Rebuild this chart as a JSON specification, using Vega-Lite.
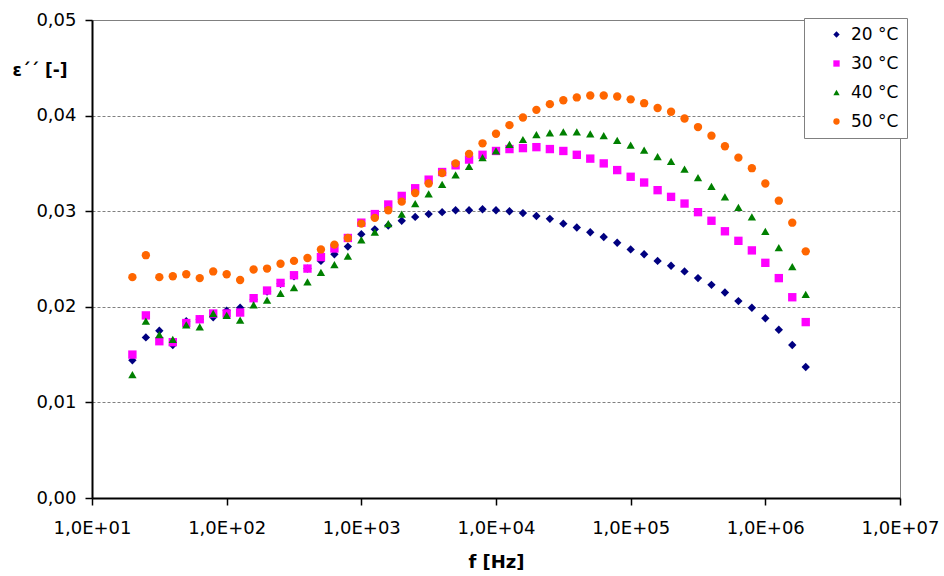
{
  "$schema": "https://vega.github.io/schema/vega-lite/v6.json",
  "width": 808,
  "height": 478,
  "autosize": {"type": "none"},
  "padding": {"left": 92, "top": 20, "right": 44, "bottom": 78},
  "background": "white",
  "config": {
    "font": "DejaVu Sans",
    "view": {"stroke": "#808080", "strokeWidth": 1},
    "axis": {"labelFont": "DejaVu Sans", "titleFont": "DejaVu Sans", "labelColor": "black", "titleColor": "black"}
  },
  "datasets": {
    "d": [
      {"f":19.95,"T":"20 °C","e":0.0144},{"f":25.12,"T":"20 °C","e":0.0168},{"f":31.62,"T":"20 °C","e":0.0175},{"f":39.81,"T":"20 °C","e":0.0160},{"f":50.12,"T":"20 °C","e":0.0185},{"f":63.1,"T":"20 °C","e":0.0187},{"f":79.43,"T":"20 °C","e":0.0189},{"f":100,"T":"20 °C","e":0.0196},{"f":125.9,"T":"20 °C","e":0.0199},{"f":158.5,"T":"20 °C","e":0.0208},
      {"f":199.5,"T":"20 °C","e":0.0216},{"f":251.2,"T":"20 °C","e":0.0224},{"f":316.2,"T":"20 °C","e":0.0232},{"f":398.1,"T":"20 °C","e":0.0240},{"f":501.2,"T":"20 °C","e":0.0248},{"f":631,"T":"20 °C","e":0.0255},{"f":794.3,"T":"20 °C","e":0.0263},{"f":1000,"T":"20 °C","e":0.0276},{"f":1259,"T":"20 °C","e":0.0281},{"f":1585,"T":"20 °C","e":0.0285},
      {"f":1995,"T":"20 °C","e":0.0290},{"f":2512,"T":"20 °C","e":0.0294},{"f":3162,"T":"20 °C","e":0.0297},{"f":3981,"T":"20 °C","e":0.0299},{"f":5012,"T":"20 °C","e":0.0301},{"f":6310,"T":"20 °C","e":0.0301},{"f":7943,"T":"20 °C","e":0.0302},{"f":10000,"T":"20 °C","e":0.0301},{"f":12589,"T":"20 °C","e":0.0300},{"f":15849,"T":"20 °C","e":0.0298},
      {"f":19953,"T":"20 °C","e":0.0295},{"f":25119,"T":"20 °C","e":0.0292},{"f":31623,"T":"20 °C","e":0.0287},{"f":39811,"T":"20 °C","e":0.0283},{"f":50119,"T":"20 °C","e":0.0278},{"f":63096,"T":"20 °C","e":0.0273},{"f":79433,"T":"20 °C","e":0.0267},{"f":100000,"T":"20 °C","e":0.0260},{"f":125893,"T":"20 °C","e":0.0255},{"f":158489,"T":"20 °C","e":0.0248},
      {"f":199526,"T":"20 °C","e":0.0243},{"f":251189,"T":"20 °C","e":0.0237},{"f":316228,"T":"20 °C","e":0.0230},{"f":398107,"T":"20 °C","e":0.0223},{"f":501187,"T":"20 °C","e":0.0215},{"f":630957,"T":"20 °C","e":0.0206},{"f":794328,"T":"20 °C","e":0.0199},{"f":1000000,"T":"20 °C","e":0.0188},{"f":1258925,"T":"20 °C","e":0.0176},{"f":1584893,"T":"20 °C","e":0.0160},{"f":1995262,"T":"20 °C","e":0.0137},

      {"f":19.95,"T":"30 °C","e":0.0150},{"f":25.12,"T":"30 °C","e":0.0191},{"f":31.62,"T":"30 °C","e":0.0164},{"f":39.81,"T":"30 °C","e":0.0163},{"f":50.12,"T":"30 °C","e":0.0183},{"f":63.1,"T":"30 °C","e":0.0187},{"f":79.43,"T":"30 °C","e":0.0193},{"f":100,"T":"30 °C","e":0.0193},{"f":125.9,"T":"30 °C","e":0.0194},{"f":158.5,"T":"30 °C","e":0.0209},
      {"f":199.5,"T":"30 °C","e":0.0217},{"f":251.2,"T":"30 °C","e":0.0225},{"f":316.2,"T":"30 °C","e":0.0233},{"f":398.1,"T":"30 °C","e":0.0240},{"f":501.2,"T":"30 °C","e":0.0252},{"f":631,"T":"30 °C","e":0.0261},{"f":794.3,"T":"30 °C","e":0.0272},{"f":1000,"T":"30 °C","e":0.0288},{"f":1259,"T":"30 °C","e":0.0297},{"f":1585,"T":"30 °C","e":0.0307},
      {"f":1995,"T":"30 °C","e":0.0316},{"f":2512,"T":"30 °C","e":0.0324},{"f":3162,"T":"30 °C","e":0.0333},{"f":3981,"T":"30 °C","e":0.0341},{"f":5012,"T":"30 °C","e":0.0348},{"f":6310,"T":"30 °C","e":0.0354},{"f":7943,"T":"30 °C","e":0.0359},{"f":10000,"T":"30 °C","e":0.0363},{"f":12589,"T":"30 °C","e":0.0365},{"f":15849,"T":"30 °C","e":0.0366},
      {"f":19953,"T":"30 °C","e":0.0367},{"f":25119,"T":"30 °C","e":0.0365},{"f":31623,"T":"30 °C","e":0.0363},{"f":39811,"T":"30 °C","e":0.0359},{"f":50119,"T":"30 °C","e":0.0355},{"f":63096,"T":"30 °C","e":0.0350},{"f":79433,"T":"30 °C","e":0.0343},{"f":100000,"T":"30 °C","e":0.0336},{"f":125893,"T":"30 °C","e":0.0330},{"f":158489,"T":"30 °C","e":0.0322},
      {"f":199526,"T":"30 °C","e":0.0315},{"f":251189,"T":"30 °C","e":0.0308},{"f":316228,"T":"30 °C","e":0.0299},{"f":398107,"T":"30 °C","e":0.0290},{"f":501187,"T":"30 °C","e":0.0279},{"f":630957,"T":"30 °C","e":0.0269},{"f":794328,"T":"30 °C","e":0.0259},{"f":1000000,"T":"30 °C","e":0.0246},{"f":1258925,"T":"30 °C","e":0.0230},{"f":1584893,"T":"30 °C","e":0.0210},{"f":1995262,"T":"30 °C","e":0.0184},

      {"f":19.95,"T":"40 °C","e":0.0129},{"f":25.12,"T":"40 °C","e":0.0185},{"f":31.62,"T":"40 °C","e":0.0171},{"f":39.81,"T":"40 °C","e":0.0166},{"f":50.12,"T":"40 °C","e":0.0181},{"f":63.1,"T":"40 °C","e":0.0179},{"f":79.43,"T":"40 °C","e":0.0193},{"f":100,"T":"40 °C","e":0.0191},{"f":125.9,"T":"40 °C","e":0.0186},{"f":158.5,"T":"40 °C","e":0.0202},
      {"f":199.5,"T":"40 °C","e":0.0207},{"f":251.2,"T":"40 °C","e":0.0214},{"f":316.2,"T":"40 °C","e":0.0220},{"f":398.1,"T":"40 °C","e":0.0226},{"f":501.2,"T":"40 °C","e":0.0236},{"f":631,"T":"40 °C","e":0.0244},{"f":794.3,"T":"40 °C","e":0.0253},{"f":1000,"T":"40 °C","e":0.0270},{"f":1259,"T":"40 °C","e":0.0278},{"f":1585,"T":"40 °C","e":0.0287},
      {"f":1995,"T":"40 °C","e":0.0297},{"f":2512,"T":"40 °C","e":0.0308},{"f":3162,"T":"40 °C","e":0.0318},{"f":3981,"T":"40 °C","e":0.0328},{"f":5012,"T":"40 °C","e":0.0338},{"f":6310,"T":"40 °C","e":0.0347},{"f":7943,"T":"40 °C","e":0.0356},{"f":10000,"T":"40 °C","e":0.0363},{"f":12589,"T":"40 °C","e":0.0370},{"f":15849,"T":"40 °C","e":0.0375},
      {"f":19953,"T":"40 °C","e":0.0380},{"f":25119,"T":"40 °C","e":0.0382},{"f":31623,"T":"40 °C","e":0.0383},{"f":39811,"T":"40 °C","e":0.0383},{"f":50119,"T":"40 °C","e":0.0381},{"f":63096,"T":"40 °C","e":0.0379},{"f":79433,"T":"40 °C","e":0.0374},{"f":100000,"T":"40 °C","e":0.0369},{"f":125893,"T":"40 °C","e":0.0364},{"f":158489,"T":"40 °C","e":0.0357},
      {"f":199526,"T":"40 °C","e":0.0352},{"f":251189,"T":"40 °C","e":0.0344},{"f":316228,"T":"40 °C","e":0.0335},{"f":398107,"T":"40 °C","e":0.0326},{"f":501187,"T":"40 °C","e":0.0315},{"f":630957,"T":"40 °C","e":0.0304},{"f":794328,"T":"40 °C","e":0.0294},{"f":1000000,"T":"40 °C","e":0.0279},{"f":1258925,"T":"40 °C","e":0.0262},{"f":1584893,"T":"40 °C","e":0.0242},{"f":1995262,"T":"40 °C","e":0.0213},

      {"f":19.95,"T":"50 °C","e":0.0231},{"f":25.12,"T":"50 °C","e":0.0254},{"f":31.62,"T":"50 °C","e":0.0231},{"f":39.81,"T":"50 °C","e":0.0232},{"f":50.12,"T":"50 °C","e":0.0234},{"f":63.1,"T":"50 °C","e":0.0230},{"f":79.43,"T":"50 °C","e":0.0237},{"f":100,"T":"50 °C","e":0.0234},{"f":125.9,"T":"50 °C","e":0.0228},{"f":158.5,"T":"50 °C","e":0.0239},
      {"f":199.5,"T":"50 °C","e":0.0240},{"f":251.2,"T":"50 °C","e":0.0245},{"f":316.2,"T":"50 °C","e":0.0248},{"f":398.1,"T":"50 °C","e":0.0251},{"f":501.2,"T":"50 °C","e":0.0260},{"f":631,"T":"50 °C","e":0.0265},{"f":794.3,"T":"50 °C","e":0.0272},{"f":1000,"T":"50 °C","e":0.0287},{"f":1259,"T":"50 °C","e":0.0293},{"f":1585,"T":"50 °C","e":0.0301},
      {"f":1995,"T":"50 °C","e":0.0310},{"f":2512,"T":"50 °C","e":0.0319},{"f":3162,"T":"50 °C","e":0.0329},{"f":3981,"T":"50 °C","e":0.0340},{"f":5012,"T":"50 °C","e":0.0350},{"f":6310,"T":"50 °C","e":0.0360},{"f":7943,"T":"50 °C","e":0.0371},{"f":10000,"T":"50 °C","e":0.0381},{"f":12589,"T":"50 °C","e":0.0390},{"f":15849,"T":"50 °C","e":0.0398},
      {"f":19953,"T":"50 °C","e":0.0406},{"f":25119,"T":"50 °C","e":0.0412},{"f":31623,"T":"50 °C","e":0.0416},{"f":39811,"T":"50 °C","e":0.0419},{"f":50119,"T":"50 °C","e":0.0421},{"f":63096,"T":"50 °C","e":0.0421},{"f":79433,"T":"50 °C","e":0.0420},{"f":100000,"T":"50 °C","e":0.0417},{"f":125893,"T":"50 °C","e":0.0413},{"f":158489,"T":"50 °C","e":0.0408},
      {"f":199526,"T":"50 °C","e":0.0404},{"f":251189,"T":"50 °C","e":0.0397},{"f":316228,"T":"50 °C","e":0.0388},{"f":398107,"T":"50 °C","e":0.0379},{"f":501187,"T":"50 °C","e":0.0368},{"f":630957,"T":"50 °C","e":0.0356},{"f":794328,"T":"50 °C","e":0.0345},{"f":1000000,"T":"50 °C","e":0.0329},{"f":1258925,"T":"50 °C","e":0.0311},{"f":1584893,"T":"50 °C","e":0.0288},{"f":1995262,"T":"50 °C","e":0.0258}
    ]
  },
  "data": {"name": "d"},
  "mark": {"type": "point", "filled": true, "opacity": 1, "size": 70},
  "encoding": {
    "x": {
      "field": "f", "type": "quantitative",
      "scale": {"type": "log", "domain": [10, 10000000], "nice": false},
      "axis": {
        "values": [10, 100, 1000, 10000, 100000, 1000000, 10000000],
        "labelExpr": "'1,0E+0' + round(log(datum.value)/LN10)",
        "grid": false,
        "domainColor": "black", "domainWidth": 2,
        "tickColor": "black", "tickWidth": 1.5, "tickSize": 7,
        "labelFontSize": 18, "labelPadding": 14, "labelFlush": false,
        "title": "f [Hz]", "titleFontSize": 18, "titleFontWeight": "bold", "titlePadding": 16
      }
    },
    "y": {
      "field": "e", "type": "quantitative",
      "scale": {"domain": [0, 0.05], "nice": false, "zero": true},
      "axis": {
        "values": [0, 0.01, 0.02, 0.03, 0.04, 0.05],
        "labelExpr": "replace(format(datum.value, '.2f'), '.', ',')",
        "grid": true, "gridColor": "#808080", "gridDash": [3, 2], "gridWidth": 1,
        "domainColor": "black", "domainWidth": 2,
        "tickColor": "black", "tickWidth": 1.5, "tickSize": 7,
        "labelFontSize": 18, "labelPadding": 9,
        "title": "ε´´ [-]", "titleFontSize": 17, "titleFontWeight": "bold",
        "titleAngle": 0, "titleAlign": "left", "titleBaseline": "middle",
        "titleX": -80, "titleY": 50
      }
    },
    "color": {
      "field": "T", "type": "nominal",
      "scale": {"domain": ["20 °C", "30 °C", "40 °C", "50 °C"], "range": ["#000080", "#FF00FF", "#008000", "#FF6600"]},
      "legend": {
        "title": null, "orient": "none", "legendX": 712, "legendY": -2,
        "fillColor": "white", "strokeColor": "#808080", "padding": 8,
        "symbolSize": 40, "symbolOffset": 16, "labelOffset": 6,
        "labelFont": "DejaVu Sans", "labelFontSize": 17, "labelColor": "black",
        "rowPadding": 11
      }
    },
    "shape": {
      "field": "T", "type": "nominal",
      "scale": {"domain": ["20 °C", "30 °C", "40 °C", "50 °C"], "range": ["diamond", "square", "triangle-up", "circle"]}
    }
  }
}
